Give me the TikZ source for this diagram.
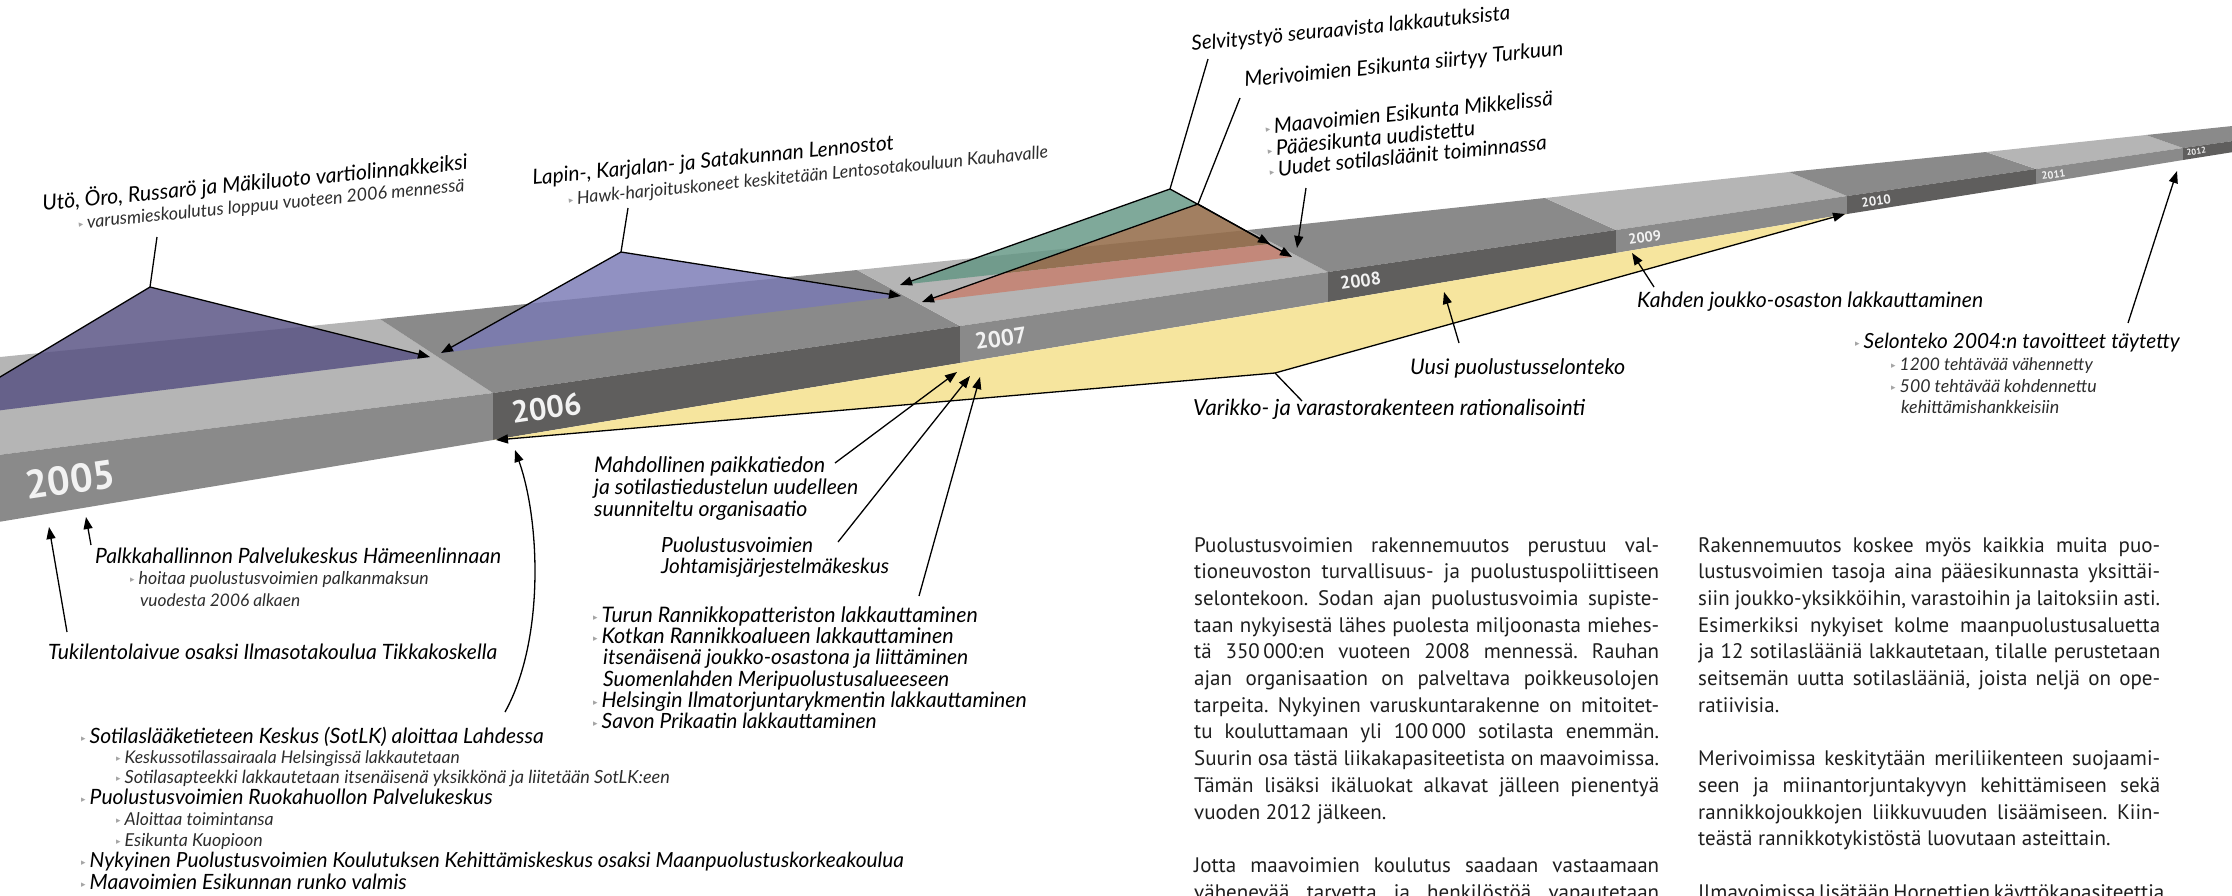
\documentclass[tikz,border=0pt]{standalone}
\usepackage{fontspec}
\setmainfont{PT Sans}
\newfontfamily\labfont{Lato}
\newfontfamily\dejavu{DejaVu Sans}
\usetikzlibrary{arrows.meta}
\frenchspacing
\definecolor{barlight}{RGB}{181,181,181}
\definecolor{barmid}{RGB}{138,138,138}
\definecolor{bardark}{RGB}{95,94,93}
\definecolor{purpA}{RGB}{85,79,129}
\definecolor{purpB}{RGB}{121,121,180}
\definecolor{greenT}{RGB}{99,150,132}
\definecolor{brownT}{RGB}{141,99,62}
\definecolor{salmonT}{RGB}{199,127,110}
\definecolor{yellowT}{RGB}{246,229,158}
\definecolor{subgray}{RGB}{45,45,45}
\definecolor{bulgray}{RGB}{165,165,165}
\definecolor{bodyc}{RGB}{30,30,30}
\newcommand{\tribul}{{\dejavu\fontsize{9}{9}\selectfont\color{bulgray}\raisebox{1.5pt}{▸}}\hspace{4pt}}
\newcommand{\fw}[2]{\resizebox{#1pt}{!}{#2}}
\newcommand{\ja}[1]{\makebox[465pt][s]{#1}}
\newcommand{\jb}[1]{\makebox[462pt][s]{#1}}
\begin{document}
\begin{tikzpicture}[x=1pt,y=-1pt,
  topL/.style={fill=barlight},
  topM/.style={fill=barmid},
  frontM/.style={fill=barmid},
  frontD/.style={fill=bardark},
  tent/.style={fill opacity=0.82},
  conn/.style={line width=1.3pt, black},
  arr/.style={conn, -{Triangle[length=12pt,width=9pt]}},
  tyear/.style={font=\bfseries, text=white!95!black, inner sep=0pt, anchor=base west, rotate=8.3},
  tlab/.style={font=\labfont\itshape\fontsize{19.5}{22}\selectfont, inner sep=0pt, anchor=base west},
  tsub/.style={font=\labfont\itshape\fontsize{17}{20}\selectfont, text=subgray, inner sep=0pt, anchor=base west},
  tsubs/.style={font=\labfont\itshape\fontsize{16}{19}\selectfont, text=subgray, inner sep=0pt, anchor=base west},
  tbody/.style={font=\fontsize{21}{26.7}\selectfont, text=bodyc, inner sep=0pt, anchor=base west}
]
\useasboundingbox (0,0) rectangle (2232,895);
\clip (0,0) rectangle (2232,895);

% ---------- bar coordinates: f = front top, g = front bottom, k = back top
\coordinate (f0) at (-50,461); \coordinate (g0) at (-50,530); \coordinate (k0) at (-50,362);
\coordinate (f1) at (493,393); \coordinate (g1) at (493,440); \coordinate (k1) at (380,319);
\coordinate (f2) at (960,326); \coordinate (g2) at (960,363); \coordinate (k2) at (857,270);
\coordinate (f3) at (1328,272); \coordinate (g3) at (1328,302); \coordinate (k3) at (1248,230);
\coordinate (f4) at (1616,230); \coordinate (g4) at (1616,253); \coordinate (k4) at (1545,198);
\coordinate (f5) at (1847,196); \coordinate (g5) at (1847,214); \coordinate (k5) at (1789,172);
\coordinate (f6) at (2036,169); \coordinate (g6) at (2036,184); \coordinate (k6) at (1986,152);
\coordinate (f7) at (2183,148); \coordinate (g7) at (2183,160); \coordinate (k7) at (2146,135);
\coordinate (f8) at (2290,133); \coordinate (g8) at (2290,143); \coordinate (k8) at (2290,120);

% top faces
\fill[topL] (k0) -- (k1) -- (f1) -- (f0) -- cycle;
\fill[topM] (k1) -- (k2) -- (f2) -- (f1) -- cycle;
\fill[topL] (k2) -- (k3) -- (f3) -- (f2) -- cycle;
\fill[topM] (k3) -- (k4) -- (f4) -- (f3) -- cycle;
\fill[topL] (k4) -- (k5) -- (f5) -- (f4) -- cycle;
\fill[topM] (k5) -- (k6) -- (f6) -- (f5) -- cycle;
\fill[topL] (k6) -- (k7) -- (f7) -- (f6) -- cycle;
\fill[topM] (k7) -- (k8) -- (f8) -- (f7) -- cycle;
% front faces
\fill[frontM] (f0) -- (f1) -- (g1) -- (g0) -- cycle;
\fill[frontD] (f1) -- (f2) -- (g2) -- (g1) -- cycle;
\fill[frontM] (f2) -- (f3) -- (g3) -- (g2) -- cycle;
\fill[frontD] (f3) -- (f4) -- (g4) -- (g3) -- cycle;
\fill[frontM] (f4) -- (f5) -- (g5) -- (g4) -- cycle;
\fill[frontD] (f5) -- (f6) -- (g6) -- (g5) -- cycle;
\fill[frontM] (f6) -- (f7) -- (g7) -- (g6) -- cycle;
\fill[frontD] (f7) -- (f8) -- (g8) -- (g7) -- cycle;

% year labels
\node[tyear, font=\bfseries\fontsize{40}{40}\selectfont] (y2005) at (27,500) {2005};
\node[tyear, font=\bfseries\fontsize{31}{31}\selectfont] (y2006) at (513,424) {2006};
\node[tyear, font=\bfseries\fontsize{23}{23}\selectfont] (y2007) at (976,350) {2007};
\node[tyear, font=\bfseries\fontsize{18}{18}\selectfont] (y2008) at (1341,290) {2008};
\node[tyear, font=\bfseries\fontsize{14.5}{14.5}\selectfont] (y2009) at (1629,245) {2009};
\node[tyear, font=\bfseries\fontsize{13}{13}\selectfont] (y2010) at (1862,208) {2010};
\node[tyear, font=\bfseries\fontsize{10.5}{10.5}\selectfont] (y2011) at (2042,180) {2011};
\node[tyear, font=\bfseries\fontsize{8.5}{8.5}\selectfont] (y2012) at (2187,156) {2012};

% ---------- yellow wedge
\coordinate (V) at (1275,373);
\fill[yellowT] (g1) -- (g2) -- (g3) -- (g4) -- (g5) -- (V) -- cycle;

% ---------- tents
\coordinate (pL) at (-70,419); \coordinate (pA) at (150,287); \coordinate (pR) at (430,357);
\fill[purpA, tent] (pL) -- (pA) -- (pR) -- cycle;
\coordinate (qL) at (441,353); \coordinate (qA) at (621,252); \coordinate (qR) at (901,296);
\fill[purpB, tent] (qL) -- (qA) -- (qR) -- cycle;
\coordinate (G) at (1170,189); \coordinate (B) at (1198,204);
\coordinate (Tg) at (900,285); \coordinate (Ts) at (922,302);
\coordinate (T1) at (1270,244); \coordinate (T2) at (1292,257);
\coordinate (I) at (intersection of Tg--T1 and B--Ts);
\fill[greenT, tent] (G) -- (Tg) -- (I) -- (B) -- cycle;
\fill[brownT, tent] (B) -- (I) -- (T1) -- cycle;
\fill[salmonT, tent] (I) -- (Ts) -- (T2) -- (T1) -- cycle;

% ---------- tent connectors
\coordinate (utoT) at (157,237);
\draw[conn] (utoT) -- (pA);
\draw[conn] (pA) -- (pL);
\draw[arr] (pA) -- (pR);
\coordinate (lapT) at (628,208);
\draw[conn] (lapT) -- (qA);
\draw[arr] (qA) -- (qL);
\draw[arr] (qA) -- (qR);
\coordinate (selT) at (1208,59);
\draw[conn] (selT) -- (G);
\draw[arr] (G) -- (Tg);
\draw[arr] (G) -- (T1);
\coordinate (merT) at (1240,98);
\draw[conn] (merT) -- (B);
\draw[arr] (B) -- (Ts);
\draw[arr] (B) -- (T2);
\coordinate (uudT) at (1306,188); \coordinate (uudH) at (1297,248);
\draw[arr] (uudT) -- (uudH);

% yellow arrows
\coordinate (yL) at (496,440); \coordinate (yR) at (1845,214);
\coordinate (varT) at (1302,401);
\draw[conn] (varT) -- (V);
\draw[arr] (V) -- (yL);
\draw[arr] (V) -- (yR);

% other arrows
\coordinate (tukiT) at (67,632); \coordinate (tukiH) at (49,527);
\draw[arr] (tukiT) -- (tukiH);
\coordinate (palkT) at (91,545); \coordinate (palkH) at (86,517);
\draw[arr] (palkT) -- (palkH);
\coordinate (sotT) at (505,712); \coordinate (sotH) at (515,450);
\draw[arr] (sotT) .. controls (545,640) and (540,520) .. (sotH);
\coordinate (mahdT) at (835,463); \coordinate (mahdH) at (957,372);
\draw[arr] (mahdT) -- (mahdH);
\coordinate (johT) at (838,542); \coordinate (johH) at (970,376);
\draw[arr] (johT) -- (johH);
\coordinate (turT) at (919,596); \coordinate (turH) at (980,377);
\draw[arr] (turT) -- (turH);
\coordinate (uusiT) at (1459,343); \coordinate (uusiH) at (1444,292);
\draw[arr] (uusiT) -- (uusiH);
\coordinate (kahT) at (1654,287); \coordinate (kahH) at (1632,253);
\draw[arr] (kahT) -- (kahH);
\coordinate (selonT) at (2128,323); \coordinate (selonH) at (2177,171);
\draw[arr] (selonT) -- (selonH);

% ---------- rotated top labels
\node[tlab, rotate=5.6] (uto) at (43,211) {\fw{427}{Utö, Öro, Russarö ja Mäkiluoto vartiolinnakkeiksi}};
\node[tsub, rotate=5.6] (utoS) at (79,229) {\tribul\fw{379}{varusmieskoulutus loppuu vuoteen 2006 mennessä}};
\node[tlab, rotate=5.6] (lap) at (533,185) {\fw{363}{Lapin-, Karjalan- ja Satakunnan Lennostot}};
\node[tsub, rotate=5.6] (lapS) at (569,205) {\tribul\fw{473}{Hawk-harjoituskoneet keskitetään Lentosotakouluun Kauhavalle}};
\node[tlab, rotate=5.6] (selv) at (1192,51) {\fw{320}{Selvitystyö seuraavista lakkautuksista}};
\node[tlab, rotate=5.6] (meri) at (1245,87) {\fw{320}{Merivoimien Esikunta siirtyy Turkuun}};
\node[tlab, rotate=5.6] (maa1) at (1266,134) {\tribul\fw{280}{Maavoimien Esikunta Mikkelissä}};
\node[tlab, rotate=5.6] (maa2) at (1268,156) {\tribul\fw{200}{Pääesikunta uudistettu}};
\node[tlab, rotate=5.6] (maa3) at (1270,177) {\tribul\fw{270}{Uudet sotilasläänit toiminnassa}};

% ---------- lower-left labels
\node[tlab] (palk) at (95,563) {\fw{406}{Palkkahallinnon Palvelukeskus Hämeenlinnaan}};
\node[tsub] (palk1) at (130,584) {\tribul\fw{290}{hoitaa puolustusvoimien palkanmaksun}};
\node[tsub] (palk2) at (140,606) {\fw{160}{vuodesta 2006 alkaen}};
\node[tlab] (tuki) at (48,659) {\fw{449}{Tukilentolaivue osaksi Ilmasotakoulua Tikkakoskella}};

\node[tlab] (sot) at (81,743) {\tribul\fw{454}{Sotilaslääketieteen Keskus (SotLK) aloittaa Lahdessa}};
\node[tsubs] (sot1) at (116,763) {\tribul\fw{335}{Keskussotilassairaala Helsingissä lakkautetaan}};
\node[tsubs] (sot2) at (116,783) {\tribul\fw{545}{Sotilasapteekki lakkautetaan itsenäisenä yksikkönä ja liitetään SotLK:een}};
\node[tlab] (ruo) at (81,804) {\tribul\fw{403}{Puolustusvoimien Ruokahuollon Palvelukeskus}};
\node[tsubs] (ruo1) at (116,825) {\tribul\fw{149}{Aloittaa toimintansa}};
\node[tsubs] (ruo2) at (116,846) {\tribul\fw{138}{Esikunta Kuopioon}};
\node[tlab] (nyk) at (81,867) {\tribul\fw{814}{Nykyinen Puolustusvoimien Koulutuksen Kehittämiskeskus osaksi Maanpuolustuskorkeakoulua}};
\node[tlab] (maav) at (81,889) {\tribul\fw{317}{Maavoimien Esikunnan runko valmis}};

% ---------- middle labels
\node[tlab] (mah1) at (594,472) {\fw{231}{Mahdollinen paikkatiedon}};
\node[tlab] (mah2) at (594,494) {\fw{264}{ja sotilastiedustelun uudelleen}};
\node[tlab] (mah3) at (594,516) {\fw{213}{suunniteltu organisaatio}};
\node[tlab] (joh1) at (661,552) {\fw{152}{Puolustusvoimien}};
\node[tlab] (joh2) at (661,573) {\fw{228}{Johtamisjärjestelmäkeskus}};
\node[tlab] (tur1) at (593,622) {\tribul\fw{376}{Turun Rannikkopatteriston lakkauttaminen}};
\node[tlab] (tur2) at (593,643) {\tribul\fw{352}{Kotkan Rannikkoalueen lakkauttaminen}};
\node[tlab] (tur3) at (603,664) {\fw{365}{itsenäisenä joukko-osastona ja liittäminen}};
\node[tlab] (tur4) at (603,686) {\fw{346}{Suomenlahden Meripuolustusalueeseen}};
\node[tlab] (tur5) at (593,707) {\tribul\fw{425}{Helsingin Ilmatorjuntarykmentin lakkauttaminen}};
\node[tlab] (tur6) at (593,728) {\tribul\fw{275}{Savon Prikaatin lakkauttaminen}};

% ---------- right labels
\node[tlab] (var) at (1193,415) {\fw{392}{Varikko- ja varastorakenteen rationalisointi}};
\node[tlab] (uusi) at (1410,374) {\fw{215}{Uusi puolustusselonteko}};
\node[tlab] (kah) at (1637,307) {\fw{346}{Kahden joukko-osaston lakkauttaminen}};
\node[tlab] (selo) at (1855,348) {\tribul\fw{316}{Selonteko 2004:n tavoitteet täytetty}};
\node[tsub] (selo1) at (1891,370) {\tribul\fw{193}{1200 tehtävää vähennetty}};
\node[tsub] (selo2) at (1891,392) {\tribul\fw{197}{500 tehtävää kohdennettu}};
\node[tsub] (selo3) at (1901,413) {\fw{158}{kehittämishankkeisiin}};

% ---------- body text column 1
\node[tbody] (a1) at (1194,552.0) {\ja{Puolustusvoimien rakennemuutos perustuu val-}};
\node[tbody] (a2) at (1194,578.7) {\ja{tioneuvoston turvallisuus- ja puolustuspoliittiseen}};
\node[tbody] (a3) at (1194,605.4) {\ja{selontekoon. Sodan ajan puolustusvoimia supiste-}};
\node[tbody] (a4) at (1194,632.1) {\ja{taan nykyisestä lähes puolesta miljoonasta miehes-}};
\node[tbody] (a5) at (1194,658.8) {\ja{tä 350\,000:en vuoteen 2008 mennessä. Rauhan}};
\node[tbody] (a6) at (1194,685.5) {\ja{ajan organisaation on palveltava poikkeusolojen}};
\node[tbody] (a7) at (1194,712.2) {\ja{tarpeita. Nykyinen varuskuntarakenne on mitoitet-}};
\node[tbody] (a8) at (1194,738.9) {\ja{tu kouluttamaan yli 100\,000 sotilasta enemmän.}};
\node[tbody] (a9) at (1194,765.6) {\ja{Suurin osa tästä liikakapasiteetista on maavoimissa.}};
\node[tbody] (a10) at (1194,792.3) {\ja{Tämän lisäksi ikäluokat alkavat jälleen pienentyä}};
\node[tbody] (a11) at (1194,819.0) {vuoden 2012 jälkeen.};
\node[tbody] (a12) at (1194,872.4) {\ja{Jotta maavoimien koulutus saadaan vastaamaan}};
\node[tbody] (a13) at (1194,899.1) {\ja{vähenevää tarvetta ja henkilöstöä vapautetaan}};
% ---------- body text column 2
\node[tbody] (b1) at (1698,552.0) {\jb{Rakennemuutos koskee myös kaikkia muita puo-}};
\node[tbody] (b2) at (1698,578.7) {\jb{lustusvoimien tasoja aina pääesikunnasta yksittäi-}};
\node[tbody] (b3) at (1698,605.4) {\jb{siin joukko-yksikköihin, varastoihin ja laitoksiin asti.}};
\node[tbody] (b4) at (1698,632.1) {\jb{Esimerkiksi nykyiset kolme maanpuolustusaluetta}};
\node[tbody] (b5) at (1698,658.8) {\jb{ja 12 sotilaslääniä lakkautetaan, tilalle perustetaan}};
\node[tbody] (b6) at (1698,685.5) {\jb{seitsemän uutta sotilaslääniä, joista neljä on ope-}};
\node[tbody] (b7) at (1698,712.2) {ratiivisia.};
\node[tbody] (b8) at (1698,765.6) {\jb{Merivoimissa keskitytään meriliikenteen suojaami-}};
\node[tbody] (b9) at (1698,792.3) {\jb{seen ja miinantorjuntakyvyn kehittämiseen sekä}};
\node[tbody] (b10) at (1698,819.0) {\jb{rannikkojoukkojen liikkuvuuden lisäämiseen. Kiin-}};
\node[tbody] (b11) at (1698,845.7) {teästä rannikkotykistöstä luovutaan asteittain.};
\node[tbody] (b12) at (1698,899.1) {\jb{Ilmavoimissa lisätään Hornettien käyttökapasiteettia}};
\end{tikzpicture}
\end{document}
